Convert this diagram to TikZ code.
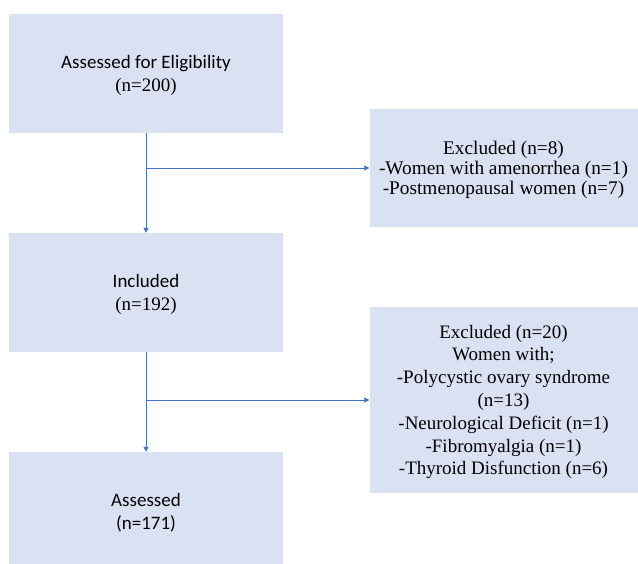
\documentclass[tikz,border=0pt]{standalone}
\usepackage{fontspec}
\setmainfont{Liberation Serif}
\newfontfamily\calibri{Carlito}
\usepgflibrary{arrows.meta}
\usetikzlibrary{positioning}
\definecolor{boxfill}{HTML}{DAE1F2}
\definecolor{lineblue}{HTML}{4472C4}
\tikzset{
  stage/.style={fill=boxfill, inner sep=0pt, minimum width=274pt, minimum height=119pt,
    align=center, text depth=0pt, font=\fontsize{19}{23}\selectfont},
  exclbox/.style={fill=boxfill, inner sep=0pt, minimum width=268pt,
    align=center, text depth=0pt},
  flow/.style={lineblue, line width=0.8pt, -{Triangle[length=5pt,width=5pt]}}
}
\begin{document}
\begin{tikzpicture}[x=1pt, y=-1pt]
  \clip (0, 0) rectangle (638, 563);
  \fill[white] (0, 0) rectangle (638, 563);
  \pgfmathsetmacro{\xl}{146}
  \pgfmathsetmacro{\xr}{503.5}
  \node[stage] (elig) at (\xl, 73.5)
    {{\calibri Assessed for Eligibility}\\(n=200)};
  \node[stage] (incl) at (\xl, 292.5)
    {{\calibri Included}\\(n=192)};
  \node[stage] (asses) at (\xl, 511.5)
    {{\calibri Assessed}\\{\calibri (n=171)}};
  \node[exclbox, minimum height=118pt, font=\fontsize{19.3}{20}\selectfont]
    (excla) at (\xr, 168)
    {Excluded (n=8)\\-Women with amenorrhea (n=1)\\-Postmenopausal women (n=7)};
  \node[exclbox, minimum height=186pt, font=\fontsize{19}{22.8}\selectfont]
    (exclb) at (\xr, 400)
    {Excluded (n=20)\\Women with;\\-Polycystic ovary syndrome\\(n=13)\\
     -Neurological Deficit (n=1)\\-Fibromyalgia (n=1)\\-Thyroid Disfunction (n=6)};

  \draw[flow] (elig) -- (incl);
  \draw[flow] (elig.south |- excla.west) -- (excla.west);
  \draw[flow] (incl) -- (asses);
  \draw[flow] (incl.south |- exclb.west) -- (exclb.west);
\end{tikzpicture}
\end{document}
